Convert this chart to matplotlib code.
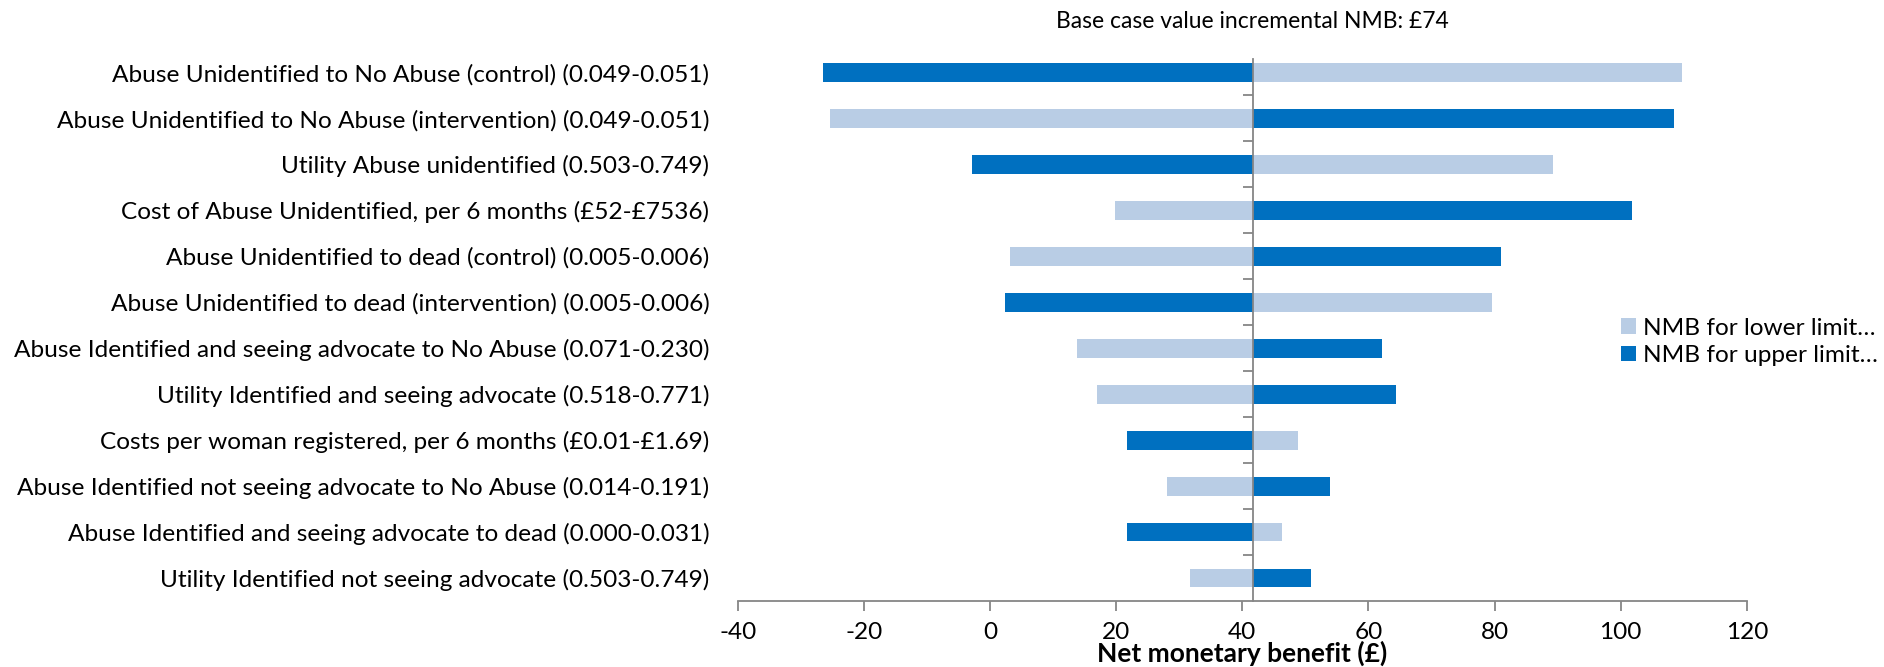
import matplotlib
matplotlib.use("Agg")
import matplotlib.pyplot as plt
import numpy as np

# ---------------- data ----------------
categories = [
    "Abuse Unidentified to No Abuse (control) (0.049-0.051)",
    "Abuse Unidentified to No Abuse (intervention) (0.049-0.051)",
    "Utility Abuse unidentified (0.503-0.749)",
    "Cost of Abuse Unidentified, per 6 months (£52-£7536)",
    "Abuse Unidentified to dead (control) (0.005-0.006)",
    "Abuse Unidentified to dead (intervention) (0.005-0.006)",
    "Abuse Identified and seeing advocate to No Abuse (0.071-0.230)",
    "Utility Identified and seeing advocate (0.518-0.771)",
    "Costs per woman registered, per 6 months (£0.01-£1.69)",
    "Abuse Identified not seeing advocate to No Abuse (0.014-0.191)",
    "Abuse Identified and seeing advocate to dead (0.000-0.031)",
    "Utility Identified not seeing advocate (0.503-0.749)",
]
nmb_lower = [109.7, -25.4, 89.3, 19.8, 3.1, 79.6, 13.8, 16.9, 48.9, 28.0, 46.3, 31.7]
nmb_upper = [-26.5, 108.5, -2.9, 101.8, 81.1, 2.4, 62.1, 64.4, 21.7, 53.9, 21.7, 50.9]
base_value = 41.7
series_names = ["NMB for lower limit…", "NMB for upper limit…"]
title_text = "Base case value incremental NMB: £74"
x_label = "Net monetary benefit (£)"
x_ticks = [-40, -20, 0, 20, 40, 60, 80, 100, 120]

# ---------------- style ----------------
FONT = ["Lato", "DejaVu Sans"]
plt.rcParams["font.family"] = FONT
LIGHT = "#B9CDE5"
DARK = "#0070C0"
GRAY = "#868686"
FS = 17.6

W, H = 1884, 667
fig = plt.figure(figsize=(W / 100, H / 100), dpi=100)

ax_left, ax_right = 737.8, 1746.8
ax_top, ax_bottom = 49.5, 601.0
rect = [ax_left / W, 1 - ax_bottom / H,
        (ax_right - ax_left) / W, (ax_bottom - ax_top) / H]
ax = fig.add_axes(rect)

y = np.arange(len(categories))
lower = np.array(nmb_lower)
upper = np.array(nmb_upper)
bh = 0.41
ax.barh(y, lower - base_value, left=base_value, height=bh, color=LIGHT,
        label=series_names[0], zorder=2)
ax.barh(y, upper - base_value, left=base_value, height=bh, color=DARK,
        label=series_names[1], zorder=2)

ylim = (len(categories) - 0.5, -0.5)
ax.set_xlim(-40, 120)
ax.set_ylim(*ylim)

# spines
for s in ["top", "right", "left"]:
    ax.spines[s].set_visible(False)
ax.spines["bottom"].set_color(GRAY)
ax.spines["bottom"].set_linewidth(1.3)

ax.set_xticks(x_ticks)
ax.set_xticklabels([str(t) for t in x_ticks])
ax.tick_params(axis="x", direction="out", length=7, width=1.3, color=GRAY,
               labelsize=FS, pad=8)

ax.set_yticks(y)
ax.set_yticklabels(categories)
ax.tick_params(axis="y", length=0, labelsize=FS, pad=20.5)

# category axis line at the base value, with small tick marks between rows
ax2 = fig.add_axes(rect, frameon=True)
ax2.patch.set_visible(False)
ax2.set_xlim(-40, 120)
ax2.set_ylim(*ylim)
for s in ["top", "right", "bottom"]:
    ax2.spines[s].set_visible(False)
ax2.spines["left"].set_position(("data", base_value))
ax2.spines["left"].set_color(GRAY)
ax2.spines["left"].set_linewidth(1.3)
ax2.spines["left"].set_bounds(len(categories) - 0.5, -0.29)
ax2.set_xticks([])
ax2.yaxis.set_ticks_position("left")
ax2.set_yticks(np.arange(0.5, len(categories) - 0.5, 1.0))
ax2.tick_params(axis="y", direction="out", length=7, width=1.3, color=GRAY,
                labelleft=False)

# labels and title
ax.set_xlabel(x_label, fontsize=19, fontweight="bold")
ax.xaxis.set_label_coords(0.5, -52 / (ax_bottom - ax_top))
ax.xaxis.label.set_va("center")

fig.text(1252 / W, 1 - 22 / H, title_text, ha="center", va="center",
         fontsize=16.5)

ax2.legend(*ax.get_legend_handles_labels(),
           loc="center left", bbox_to_anchor=(1621 / W, 1 - 342 / H),
           bbox_transform=fig.transFigure, frameon=False, fontsize=FS,
           handlelength=0.62, handleheight=0.62, handletextpad=0.3,
           labelspacing=0.25, borderpad=0, borderaxespad=0)

fig.savefig("out.png", dpi=100)
